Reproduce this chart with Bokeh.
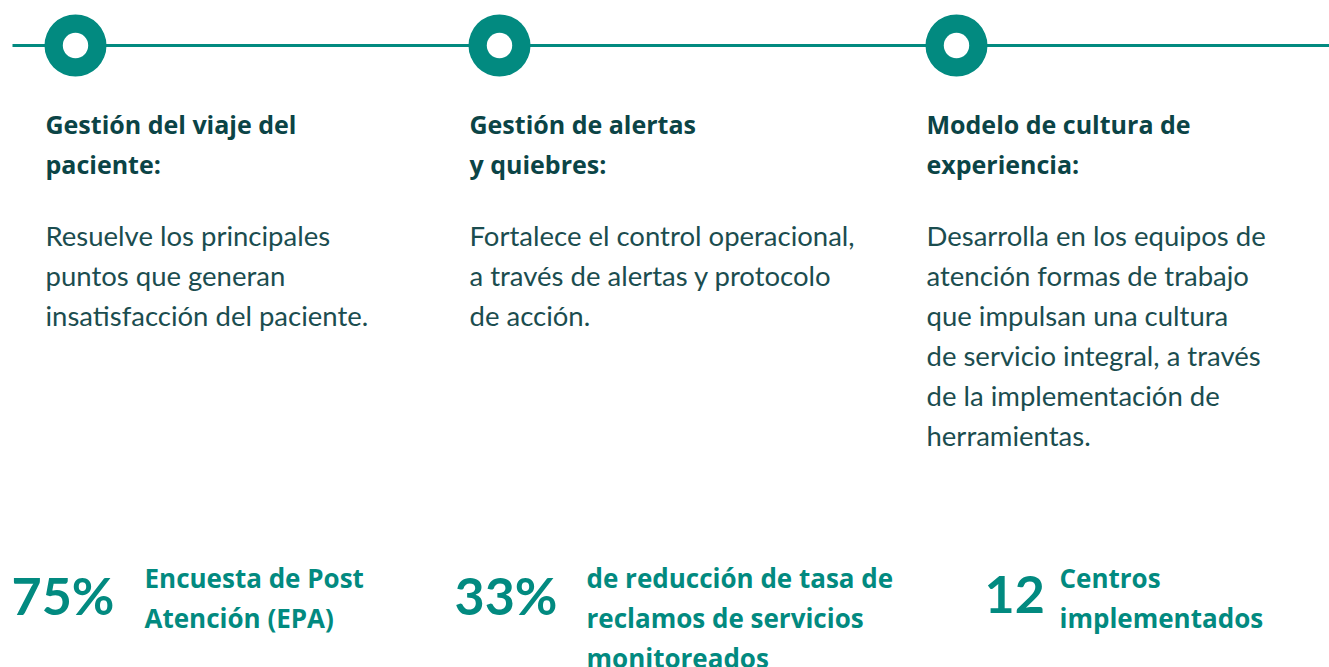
from bokeh.plotting import figure
from bokeh.models import Range1d, ColumnDataSource
from bokeh.core.properties import value
from bokeh.embed import file_html
from bokeh.resources import INLINE

# ---- data ----
headings = [
    ["Gestión del viaje del", "paciente:"],
    ["Gestión de alertas", "y quiebres:"],
    ["Modelo de cultura de", "experiencia:"],
]
bodies = [
    ["Resuelve los principales", "puntos que generan", "insatisfacción del paciente."],
    ["Fortalece el control operacional,", "a través de alertas y protocolo", "de acción."],
    ["Desarrolla en los equipos de", "atención formas de trabajo", "que impulsan una cultura",
     "de servicio integral, a través", "de la implementación de", "herramientas."],
]
stat_values = ["75%", "33%", "12"]
stat_labels = [
    ["Encuesta de Post", "Atención (EPA)"],
    ["de reducción de tasa de", "reclamos de servicios", "monitoreados"],
    ["Centros", "implementados"],
]

# ---- layout (page pixel coordinates) ----
W, H = 1329, 667
col_x = [45, 469, 926]
node_x = [75, 499, 956]
node_y = 45
stat_num_x = [11, 454, 984]
stat_lab_x = [144, 586, 1059]

TEAL = "#028a80"
DARK = "#0b4446"
BODY = "#1b4d4f"

p = figure(width=W, height=H, output_backend="svg", toolbar_location=None,
           x_range=Range1d(0, W), y_range=Range1d(H, 0),
           min_border=0, outline_line_color=None)
p.axis.visible = False
p.grid.visible = False
p.background_fill_color = "white"
p.border_fill_color = "white"

# timeline line
p.segment(x0=[12], y0=[node_y], x1=[W], y1=[node_y], line_color=TEAL, line_width=3)
# nodes
p.circle(x=node_x, y=[node_y] * 3, radius=31, fill_color=TEAL, line_color=None)
p.circle(x=node_x, y=[node_y] * 3, radius=12.7, fill_color="white", line_color=None)

def add_lines(xs, ys, texts, size, color, style, font):
    src = ColumnDataSource(dict(x=xs, y=ys, t=texts))
    p.text(x="x", y="y", text="t", source=src, text_font=value(font),
           text_font_size=size, text_color=color, text_font_style=style,
           text_align="left", text_baseline="alphabetic")

# headings
xs, ys, ts = [], [], []
for cx, lines in zip(col_x, headings):
    for i, t in enumerate(lines):
        xs.append(cx); ys.append(123 + 40 * i); ts.append(t)
add_lines(xs, ys, ts, "25px", DARK, "bold", "Open Sans")

# bodies
xs, ys, ts = [], [], []
for cx, lines in zip(col_x, bodies):
    for i, t in enumerate(lines):
        xs.append(cx); ys.append(235 + 40 * i); ts.append(t)
add_lines(xs, ys, ts, "27.5px", BODY, "normal", "Lato")

# stat numbers
add_lines(stat_num_x, [594] * 3, stat_values, "52px", TEAL, "bold", "Lato")

# stat labels
xs, ys, ts = [], [], []
for lx, lines in zip(stat_lab_x, stat_labels):
    for i, t in enumerate(lines):
        xs.append(lx); ys.append(577 + 40 * i); ts.append(t)
add_lines(xs, ys, ts, "26px", TEAL, "bold", "Open Sans")

open("out.html", "w").write(file_html(p, INLINE))
